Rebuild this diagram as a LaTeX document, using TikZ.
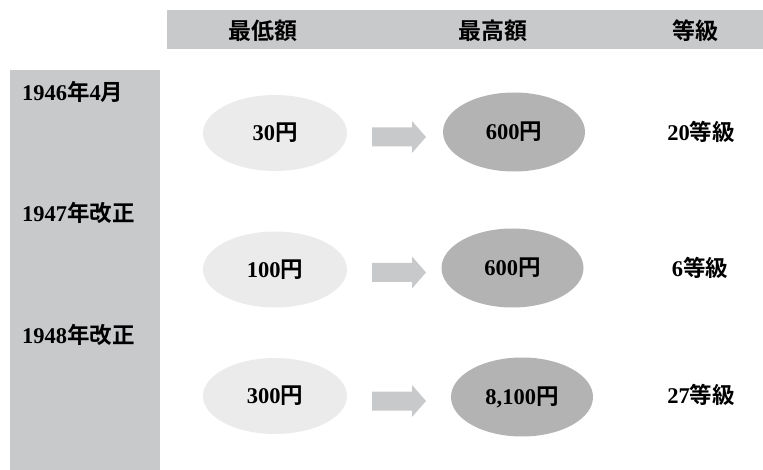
\documentclass[tikz,border=0pt]{standalone}
\usepackage{fontspec}
\setmainfont{Liberation Serif}
\newfontfamily\cjk{Noto Sans CJK JP}[BoldFont={* Bold}]
\definecolor{bargray}{HTML}{C8C9CB}
\definecolor{lightell}{HTML}{EBEBEB}
\definecolor{darkell}{HTML}{B3B3B3}
\newcommand{\J}[1]{{\cjk\bfseries #1}}
\tikzset{
  lbl/.style={font=\fontsize{22.5}{26}\selectfont\bfseries, inner sep=0pt},
  hdr/.style={font=\fontsize{23}{26}\selectfont\bfseries, inner sep=0pt},
  lowell/.style={ellipse, fill=lightell, minimum width=144pt, minimum height=76pt, lbl},
  highell/.style={ellipse, fill=darkell, minimum width=142pt, minimum height=79pt, lbl},
}
\usetikzlibrary{shapes.geometric}
\newcommand{\blockarrow}[2]{%
  \fill[bargray] (#1-27,#2-9.5) -- (#1+13,#2-9.5) -- (#1+13,#2-16) -- (#1+27,#2) -- (#1+13,#2+16) -- (#1+13,#2+9.5) -- (#1-27,#2+9.5) -- cycle;}
\begin{document}
\begin{tikzpicture}[x=1pt,y=-1pt]
\useasboundingbox (0,0) rectangle (763,470);
% header bar
\fill[bargray] (167,10) rectangle (763,49);
\node[hdr] (h1) at (262.5,31) {\J{最低額}};
\node[hdr] (h2) at (493,31) {\J{最高額}};
\node[hdr] (h3) at (695,31) {\J{等級}};
% left bar
\fill[bargray] (10,70) rectangle (160,470);
\node[lbl, anchor=west] (y1) at (22,92) {1946\J{年}4\J{月}};
\node[lbl, anchor=west] (y2) at (22,213) {1947\J{年改正}};
\node[lbl, anchor=west] (y3) at (22,335) {1948\J{年改正}};
% row 1
\node[lowell] (l1) at (275,133) {30\J{円}};
\node[highell] (m1) at (514,132) {600\J{円}};
\node[lbl] (g1) at (701,132) {20\J{等級}};
\blockarrow{399}{137}
% row 2
\node[lowell] (l2) at (275,269.5) {100\J{円}};
\node[highell] (m2) at (512.5,268) {600\J{円}};
\node[lbl] (g2) at (700,268) {6\J{等級}};
\blockarrow{399}{272.5}
% row 3
\node[lowell] (l3) at (275,396) {300\J{円}};
\node[highell] (m3) at (522,397) {8,100\J{円}};
\node[lbl] (g3) at (701,395) {27\J{等級}};
\blockarrow{399}{401}
\end{tikzpicture}
\end{document}
